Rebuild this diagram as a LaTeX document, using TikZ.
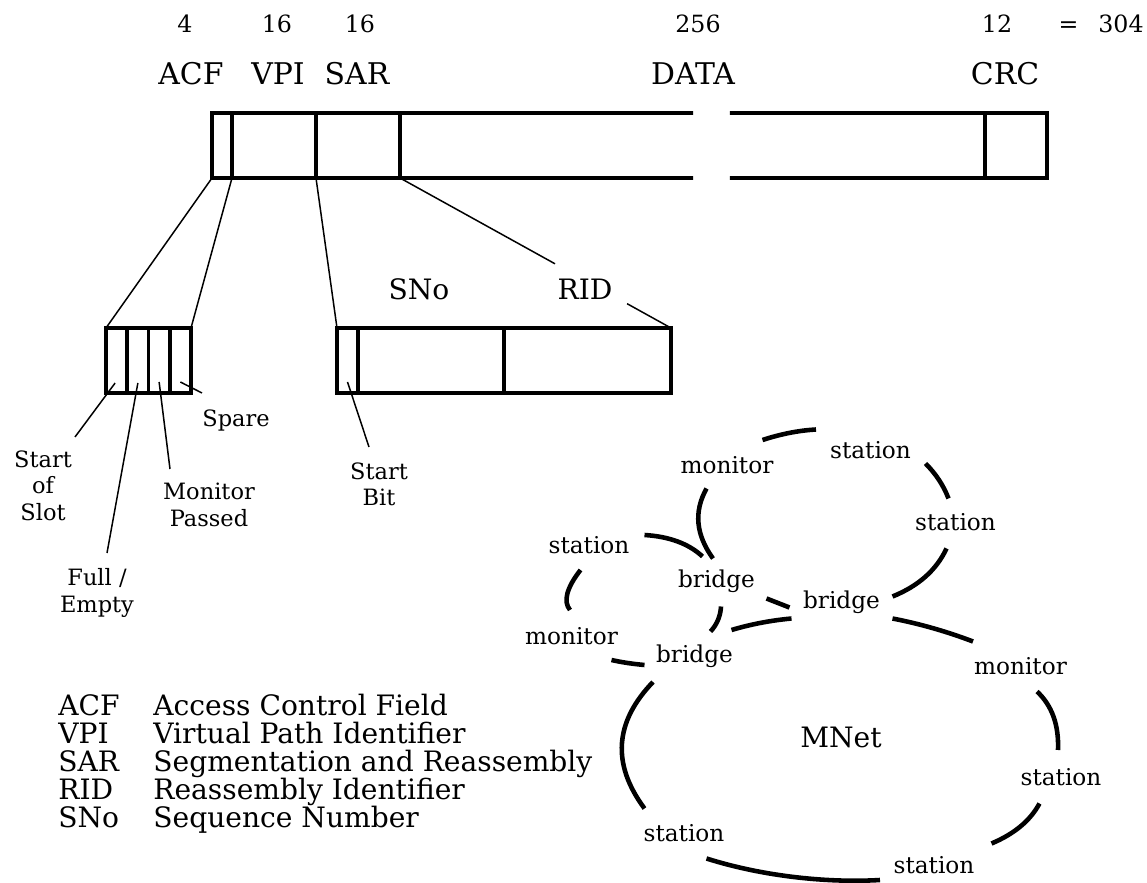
\documentclass[tikz,border=0pt]{standalone}
\usepackage{fontspec}
\setmainfont{DejaVu Serif}
\usetikzlibrary{calc}

\tikzset{
  field/.style={
    draw=black,
    shape=rectangle,
    line width=2.2pt,
    inner sep=0pt,
    outer sep=0pt,
    minimum height=1.30cm,
    anchor=south west,
  },
  fieldline/.style={
    draw=black,
    line width=2.2pt,
  },
  fieldname/.style={
    font=\fontsize{17}{19}\selectfont,
    inner sep=0pt,
    anchor=base,
  },
  subname/.style={
    font=\fontsize{16}{18}\selectfont,
    inner sep=0pt,
    anchor=base,
  },
  bitcount/.style={
    font=\fontsize{13.5}{15}\selectfont,
    inner sep=0pt,
    anchor=base,
  },
  bitlabel/.style={
    font=\fontsize{12.8}{15.3}\selectfont,
    align=center,
    inner sep=0pt,
  },
  pointer/.style={
    draw=black,
    line width=0.85pt,
  },
  netnode/.style={
    font=\fontsize{13.2}{15}\selectfont,
    inner sep=0pt,
  },
  ring/.style={
    draw=black,
    line width=2.6pt,
  },
  keyname/.style={
    font=\fontsize{16}{18}\selectfont,
    inner sep=0pt,
    anchor=base west,
  },
}

\begin{document}
\begin{tikzpicture}
  \useasboundingbox (0,0) rectangle (22.94,17.66);

  % bit counts
  \node[bitcount] (n1) at (3.70,17.00) {4};
  \node[bitcount] (n2) at (5.54,17.00) {16};
  \node[bitcount] (n3) at (7.20,17.00) {16};
  \node[bitcount] (n4) at (13.96,17.00) {256};
  \node[bitcount] (n5) at (19.94,17.00) {12};
  \node[bitcount] (eq) at (21.37,17.00) {=};
  \node[bitcount] (sum) at (22.42,17.00) {304};

  % field names
  \node[fieldname] (tacf) at (3.82,15.96) {ACF};
  \node[fieldname] (tvpi) at (5.56,15.96) {VPI};
  \node[fieldname] (tsar) at (7.14,15.96) {SAR};
  \node[fieldname] (tdata) at (13.86,15.96) {DATA};
  \node[fieldname] (tcrc) at (20.10,15.96) {CRC};

  % the slot
  \node[field, minimum width=0.40cm] (acf) at (4.24,14.10) {};
  \node[field, minimum width=1.68cm] (vpi) at (4.64,14.10) {};
  \node[field, minimum width=1.68cm] (sar) at (6.32,14.10) {};
  \node[field, draw=none, minimum width=11.70cm] (data) at (8.00,14.10) {};
  \node[field, minimum width=1.24cm] (crc) at (19.70,14.10) {};
  \draw[fieldline] (data.north west) -- ($(data.north west)!0.501!(data.north east)$)
                   ($(data.north west)!0.564!(data.north east)$) -- (data.north east)
                   (data.south west) -- ($(data.south west)!0.501!(data.south east)$)
                   ($(data.south west)!0.564!(data.south east)$) -- (data.south east);

  % ACF bits
  \foreach \i in {1,...,4}
    \node[field, minimum width=0.425cm] (flag\i) at ({2.12+0.425*(\i-1)},9.80) {};

  % SAR sub fields
  \node[field, minimum width=0.42cm] (sbit) at (6.74,9.80) {};
  \node[field, minimum width=2.92cm] (sno) at (7.16,9.80) {};
  \node[field, minimum width=3.34cm] (rid) at (10.08,9.80) {};
  \node[subname] (tsno) at (8.38,11.66) {SNo};
  \node[subname] (trid) at (11.70,11.66) {RID};

  \draw[pointer] (acf.south west) -- (flag1.north west);
  \draw[pointer] (acf.south east) -- (flag4.north east);
  \draw[pointer] (sar.south west) -- (sbit.north west);
  \draw[pointer] (sar.south east) -- ($(sar.south east)!0.572!(rid.north east)$)
                 ($(sar.south east)!0.838!(rid.north east)$) -- (rid.north east);

  % bit names
  \node[bitlabel, anchor=north] (slot) at (0.86,8.66) {Start\\of\\Slot};
  \node[bitlabel, anchor=north] (full) at (1.94,6.30) {Full /\\Empty};
  \node[bitlabel, anchor=north] (passed) at (4.18,8.00) {Monitor\\Passed};
  \node[bitlabel, anchor=base west] (spare) at (4.04,9.12) {Spare};
  \node[bitlabel, anchor=north] (start) at (7.58,8.42) {Start\\Bit};

  \draw[pointer] ([xshift=-0.03cm,yshift=0.2cm]flag1.south) -- ([xshift=0.64cm,yshift=0.26cm]slot.north);
  \draw[pointer] ([yshift=0.2cm]flag2.south) -- ([xshift=0.2cm,yshift=0.3cm]full.north);
  \draw[pointer] ([yshift=0.22cm]flag3.south) -- ([xshift=-0.78cm,yshift=0.28cm]passed.north);
  \draw[pointer] ([yshift=0.22cm]flag4.south) -- ([yshift=0.68cm]spare.base west);
  \draw[pointer] ([yshift=0.22cm]sbit.south) -- ([xshift=-0.2cm,yshift=0.3cm]start.north);

  % abbreviations
  \foreach \abbr/\txt [count=\k] in {ACF/Access Control Field,
      VPI/Virtual Path Identifier, SAR/Segmentation and Reassembly,
      RID/Reassembly Identifier, SNo/Sequence Number} {
    \node[keyname] (abbr\k) at (1.16,{3.34-0.56*(\k-1)}) {\abbr};
    \node[keyname] (desc\k) at (3.06,{3.34-0.56*(\k-1)}) {\txt};
  }

  % MNet rings
  \node[netnode] (mon1) at (14.54,8.36) {monitor};
  \node[netnode] (sta1) at (17.41,8.66) {station};
  \node[netnode] (sta2) at (19.11,7.22) {station};
  \node[netnode] (sta3) at (11.78,6.76) {station};
  \node[netnode] (brA) at (14.33,6.04) {bridge};
  \node[netnode] (brB) at (16.83,5.62) {bridge};
  \node[netnode] (mon2) at (11.43,4.94) {monitor};
  \node[netnode] (brC) at (13.89,4.54) {bridge};
  \node[netnode] (mon3) at (20.41,4.34) {monitor};
  \node[netnode] (sta4) at (21.22,2.12) {station};
  \node[netnode] (sta5) at (13.68,1.00) {station};
  \node[netnode] (sta6) at (18.68,0.36) {station};
  \node[subname, anchor=center] (mnet) at (16.82,2.92) {MNet};

  \draw[ring] (15.25,8.86) .. controls (15.62,8.98) and (15.97,9.05) .. (16.32,9.07);
  \draw[ring] (18.51,8.39) .. controls (18.72,8.18) and (18.87,7.95) .. (18.97,7.69);
  \draw[ring] (14.13,7.89) .. controls (13.87,7.42) and (13.92,6.96) .. (14.26,6.49);
  \draw[ring] (12.89,6.96) .. controls (13.38,6.93) and (13.77,6.79) .. (14.05,6.53);
  \draw[ring] (11.61,6.26) .. controls (11.33,5.90) and (11.26,5.63) .. (11.40,5.46);
  \draw[ring] (15.33,5.69) -- (15.79,5.51);
  \draw[ring] (18.93,6.69) .. controls (18.73,6.26) and (18.37,5.94) .. (17.85,5.73);
  \draw[ring] (12.23,4.46) .. controls (12.45,4.41) and (12.67,4.38) .. (12.89,4.36);
  \draw[ring] (14.42,5.53) .. controls (14.41,5.34) and (14.34,5.17) .. (14.21,5.03);
  \draw[ring] (14.63,5.06) .. controls (15.00,5.17) and (15.40,5.25) .. (15.83,5.29);
  \draw[ring] (17.85,5.29) .. controls (18.42,5.18) and (18.96,5.02) .. (19.46,4.83);
  \draw[ring] (20.74,3.83) .. controls (21.04,3.55) and (21.18,3.16) .. (21.16,2.66);
  \draw[ring] (20.79,1.59) .. controls (20.60,1.24) and (20.28,0.98) .. (19.83,0.79);
  \draw[ring] (14.13,0.49) .. controls (15.30,0.12) and (16.60,0.00) .. (17.60,0.06);
  \draw[ring] (13.06,4.02) .. controls (12.29,3.22) and (12.23,2.38) .. (12.89,1.49);
\end{tikzpicture}
\end{document}
